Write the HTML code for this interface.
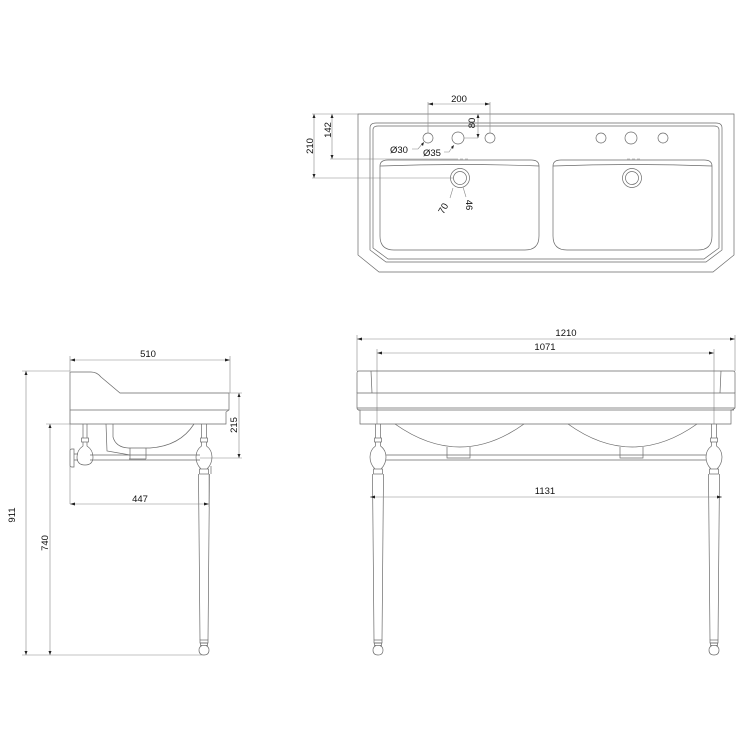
<!DOCTYPE html>
<html><head><meta charset="utf-8"><style>
html,body{margin:0;padding:0;background:#fff;}
svg{display:block;}
text{font-family:"Liberation Sans",sans-serif;font-size:9.5px;fill:#111;}
.l{fill:none;stroke:#6a6a6a;stroke-width:0.7;}
.d{fill:none;stroke:#888;stroke-width:0.6;}
.a{fill:#222;stroke:none;}
</style></head><body>
<svg width="750" height="750" viewBox="0 0 750 750" xmlns="http://www.w3.org/2000/svg">
<defs>
<g id="leg">
  <path class="l" d="M-2.5,0 L-2.5,14 M2.5,0 L2.5,14"/>
  <rect class="l" x="-3.5" y="14" width="7" height="4"/>
  <path class="l" d="M-2.5,18 L-2.5,22 Q-8,26 -8,33 Q-8,40 -3,45 M2.5,18 L2.5,22 Q8,26 8,33 Q8,40 3,45"/>
  <rect class="l" x="-4.5" y="45" width="9" height="5"/>
  <path class="l" d="M-5.5,50 L-4,216 M5.5,50 L4,216"/>
  <rect class="l" x="-4" y="216" width="8" height="3"/>
  <rect class="l" x="-3.5" y="219" width="7" height="2.5"/>
  <path class="l" d="M-2,221.5 Q-5,223 -5,226 Q-5,231 0,231 Q5,231 5,226 Q5,223 2,221.5"/>
</g>
</defs>

<!-- ========== TOP VIEW ========== -->
<path class="l" d="M358,114 L734,114 L734,255 L713,272 L379,272 L358,255 Z"/>
<path class="l" d="M370,128 Q370,123 376,123 L716,123 Q722,123 722,128 L722,250 L706,262 L386,262 L370,250 Z"/>
<path class="l" d="M373,130 Q373,126 378,126 L714,126 Q719,126 719,130 L719,248 L704,259 L388,259 L373,248 Z"/>
<path class="l" d="M380,166 Q380,160 388,160 L531,160 Q539,160 539,166 L539,236 Q539,250 525,250 L394,250 Q380,250 380,236 Z"/>
<path class="l" d="M380,166 Q460,163 539,166"/>
<path class="l" d="M553,166 Q553,160 561,160 L704,160 Q712,160 712,166 L712,236 Q712,250 698,250 L567,250 Q553,250 553,236 Z"/>
<path class="l" d="M553,166 Q632,163 712,166"/>
<path class="d" d="M455,159 h3 M460,159 h3 M465,159 h3 M627,159 h3 M632,159 h3 M637,159 h3"/>
<circle class="l" cx="428" cy="138" r="5"/>
<circle class="l" cx="458" cy="138" r="6"/>
<circle class="l" cx="490" cy="138" r="5"/>
<circle class="l" cx="601" cy="138" r="5"/>
<circle class="l" cx="631" cy="138" r="6"/>
<circle class="l" cx="663" cy="138" r="5"/>
<circle class="l" cx="460" cy="178" r="9.5"/>
<circle class="l" cx="460" cy="178" r="6.5"/>
<circle class="l" cx="632" cy="178" r="9.5"/>
<circle class="l" cx="632" cy="178" r="6.5"/>
<path class="d" d="M428,102 L428,133 M490,102 L490,133 M428,104 L490,104"/>
<path class="a" d="M428,104 l5,-1.5 v3z M490,104 l-5,-1.5 v3z"/>
<text x="459" y="102" text-anchor="middle">200</text>
<path class="d" d="M478,114 L478,138 M464,138 L478,138"/>
<path class="a" d="M478,114 l-1.5,4 h3z M478,138 l-1.5,-4 h3z"/>
<text transform="translate(475,123) rotate(-90)" text-anchor="middle">80</text>
<path class="d" d="M312,114 L358,114 M330,159 L455,159 M312,178 L454,178 M314,114 L314,178 M332,114 L332,159"/>
<path class="a" d="M314,114 l-1.5,4 h3z M314,178 l-1.5,-4 h3z M332,114 l-1.5,4 h3z M332,159 l-1.5,-4 h3z"/>
<text transform="translate(313,146) rotate(-90)" text-anchor="middle">210</text>
<text transform="translate(331,130) rotate(-90)" text-anchor="middle">142</text>
<path class="d" d="M412,149 L418,149 L423,143"/>
<path class="a" d="M424,142 l-1,4 l-2,-2z"/>
<text x="390" y="153">Ø30</text>
<path class="d" d="M444,152 L449,152 L453,146"/>
<path class="a" d="M454,145 l-1,4 l-2,-2z"/>
<text x="423" y="156">Ø35</text>
<path class="d" d="M450,198 L453,188 M466,197 L463,187"/>
<text transform="translate(446,210) rotate(-60)" text-anchor="middle">70</text>
<text transform="translate(466,205) rotate(90)" text-anchor="middle">46</text>

<!-- ========== FRONT VIEW ========== -->
<path class="d" d="M357,339 L735,339 M357,335 L357,371 M735,335 L735,371"/>
<path class="a" d="M357,339 l5,-1.5 v3z M735,339 l-5,-1.5 v3z"/>
<text x="566" y="336" text-anchor="middle">1210</text>
<path class="d" d="M377,353 L714,353 M377,349 L377,424 M714,349 L714,424"/>
<path class="a" d="M377,353 l5,-1.5 v3z M714,353 l-5,-1.5 v3z"/>
<text x="545" y="350" text-anchor="middle">1071</text>
<path class="l" d="M359,371 L733,371 Q735,371 735,373 L735,393 M359,371 Q357,371 357,373 L357,393 M371,371 L372,393 M721,371 L720,393"/>
<path class="l" d="M357,393 L735,393 L735,408 Q733,410 731,410 L731,424 L360,424 L360,410 Q357,410 357,408 Z"/>
<path class="l" d="M357,408 L735,408 M358,410 L734,410"/>
<path class="l" d="M395,424 Q460,470 524,424 M568,424 Q632,470 697,424"/>
<path class="l" d="M447,447 L447,458 L470,458 L470,447 M620,447 L620,458 L643,458 L643,447"/>
<path class="l" d="M386,455 L706,455 M386,460 L706,460"/>
<use href="#leg" x="378" y="424"/>
<use href="#leg" x="714" y="424"/>
<path class="d" d="M370,497 L722,497"/>
<path class="a" d="M370,497 l5,-1.5 v3z M722,497 l-5,-1.5 v3z"/>
<text x="545" y="494" text-anchor="middle">1131</text>

<!-- ========== SIDE VIEW ========== -->
<path class="d" d="M70,360 L230,360 M70,356 L70,371 M230,356 L230,393"/>
<path class="a" d="M70,360 l5,-1.5 v3z M230,360 l-5,-1.5 v3z"/>
<text x="148" y="357" text-anchor="middle">510</text>
<path class="l" d="M70,372 L91,372 Q97,372 101,377 L120,393 L229,393 L229,410 L226,412 L226,424 L70,424 Z"/>
<path class="l" d="M70,410 L229,410"/>
<path class="d" d="M120,393 L242,393 M200,458 L242,458 M239,393 L239,458"/>
<path class="a" d="M239,393 l-1.5,4 h3z M239,458 l-1.5,-4 h3z"/>
<text transform="translate(237,425) rotate(-90)" text-anchor="middle">215</text>
<path class="l" d="M106,424 L107,451 L130,455 L130,459 M113,424 L113,437 Q116,448 130,448 L150,448 Q180,446 194,424 M130,448 L130,459 M146,448 L146,459"/>
<path class="l" d="M90,455 L200,455 M90,460 L200,460 M129,459 L146,459"/>
<path class="l" d="M83,424 L83,438 M87,424 L87,438"/>
<rect class="l" x="81.5" y="438" width="7" height="4"/>
<path class="l" d="M83,442 L83,446 Q77,450 77,457 Q77,465 85,465 Q93,465 93,457 Q93,450 87,446 L87,442"/>
<path class="l" d="M70,451 L70,465 Q70,467 72,467 L74,467 L74,449 L72,449 Q70,449 70,451 Z M74,454 L78,454 M74,460 L78,460"/>
<use href="#leg" x="204" y="424"/>
<path class="l" d="M211,466 L211,474"/>
<path class="d" d="M70,400 L70,504 M209,474 L209,507 M70,504 L209,504"/>
<path class="a" d="M70,504 l5,-1.5 v3z M209,504 l-5,-1.5 v3z"/>
<text x="140" y="502" text-anchor="middle">447</text>
<path class="d" d="M22,371 L70,371 M26,371 L26,655 M46,424 L70,424 M50,424 L50,655 M22,655 L204,655"/>
<path class="a" d="M26,371 l-1.5,4 h3z M26,655 l-1.5,-4 h3z M50,424 l-1.5,4 h3z M50,655 l-1.5,-4 h3z"/>
<text transform="translate(15,515) rotate(-90)" text-anchor="middle">911</text>
<text transform="translate(48,543) rotate(-90)" text-anchor="middle">740</text>
</svg>
</body></html>
